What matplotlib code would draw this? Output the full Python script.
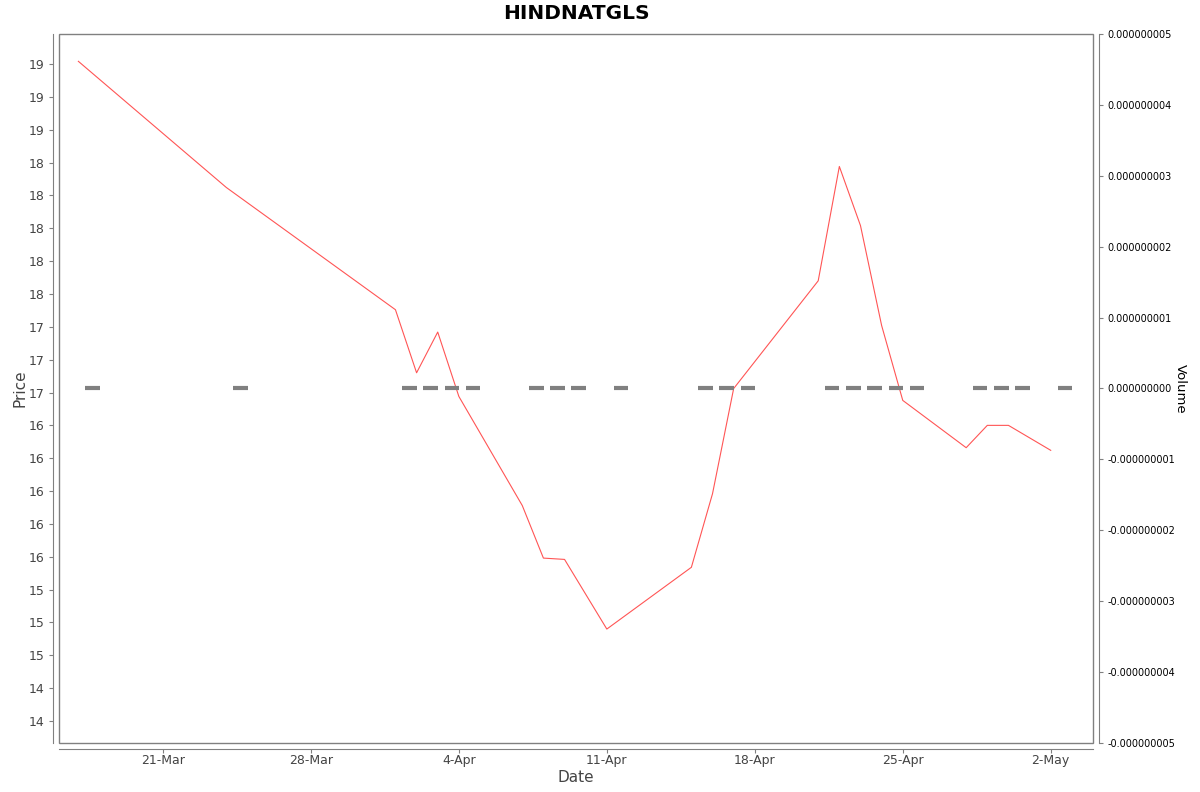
import matplotlib
matplotlib.use("Agg")
import matplotlib.pyplot as plt
import matplotlib.dates as mdates
from matplotlib.ticker import MultipleLocator, FuncFormatter
import numpy as np
import pandas as pd

# Price / volume data
dates = pd.to_datetime([
    "2025-03-17", "2025-03-24", "2025-04-01", "2025-04-02", "2025-04-03",
    "2025-04-04", "2025-04-07", "2025-04-08", "2025-04-09", "2025-04-11",
    "2025-04-15", "2025-04-16", "2025-04-17", "2025-04-21", "2025-04-22",
    "2025-04-23", "2025-04-24", "2025-04-25", "2025-04-28", "2025-04-29",
    "2025-04-30", "2025-05-02",
])
prices = [
    19.27, 18.31, 17.38, 16.90, 17.21,
    16.72, 15.89, 15.49, 15.48, 14.95,
    15.42, 15.98, 16.78, 17.60, 18.47,
    18.02, 17.26, 16.69, 16.33, 16.50,
    16.50, 16.31,
]
volumes = [0] * len(dates)
volume_ticks = np.arange(-5, 6) * 1e-9

frame_col = "#808080"
text_col = "#444444"

fig = plt.figure(figsize=(12, 7.92), dpi=100)
ax = fig.add_axes([59 / 1200, 49 / 792, 1034 / 1200, 709 / 792])
ax2 = ax.twinx()

# price line
ax.plot(dates, prices, color="#ff5555", linewidth=0.8, zorder=3)

# volume bars (all zero)
ax2.bar(dates + pd.Timedelta(hours=16), volumes, width=0.68,
        color=frame_col, edgecolor=frame_col, linewidth=3)

# axis ranges
ax.set_xlim(pd.Timestamp("2025-03-16 02:00"), pd.Timestamp("2025-05-04"))
ax.set_ylim(14.083, 19.478)
ax2.set_ylim(-5.0e-9, 5.0e-9)

# ticks
ax.yaxis.set_major_locator(MultipleLocator(0.25))
ax.yaxis.set_major_formatter(FuncFormatter(lambda v, p: f"{round(v)}"))
ax2.set_yticks(volume_ticks)
ax2.yaxis.set_major_formatter(FuncFormatter(lambda v, p: f"{v:.9f}"))
ax.xaxis.set_major_locator(mdates.WeekdayLocator(byweekday=mdates.FR))
ax.xaxis.set_major_formatter(mdates.DateFormatter("%-d-%b"))

ax.tick_params(axis="both", colors=frame_col, labelcolor=text_col,
               labelsize=9, length=3, width=0.8)
ax.tick_params(axis="x", pad=1)
ax2.tick_params(axis="y", colors=frame_col, labelcolor="black",
                labelsize=7, length=3, width=0.8)

# frame box + offset axis lines
ax.patch.set_edgecolor(frame_col)
ax.patch.set_linewidth(1)
for side in ["top", "right"]:
    ax.spines[side].set_visible(False)
for side in ["top", "left", "bottom"]:
    ax2.spines[side].set_visible(False)
for side in ["left", "bottom"]:
    ax.spines[side].set_position(("outward", 4))
    ax.spines[side].set_color(frame_col)
ax2.spines["right"].set_position(("outward", 4))
ax2.spines["right"].set_color(frame_col)

# labels
ax.set_title("HINDNATGLS", fontsize=14.5, fontweight="bold", pad=11)
ax.set_xlabel("Date", fontsize=11, color=text_col, labelpad=2)
ax.set_ylabel("Price", fontsize=11, color=text_col, labelpad=1)
ax2.set_ylabel("Volume", fontsize=9.5, rotation=270, labelpad=8)

fig.savefig("out.png", dpi=100)
